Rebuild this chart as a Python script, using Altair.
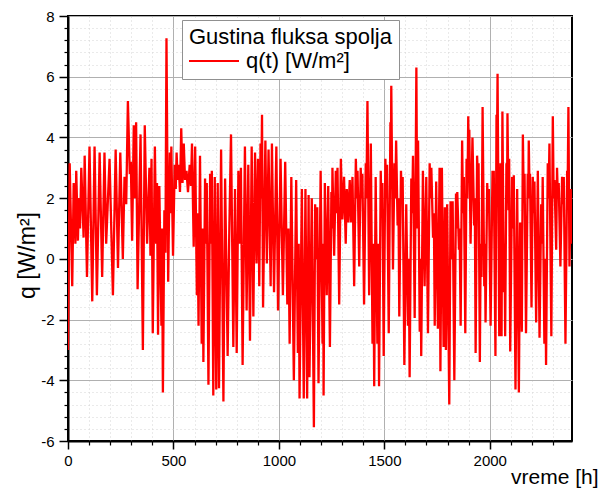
import altair as alt
import pandas as pd

# time [h] and heat flux q [W/m^2]
t_hours = [
    0, 8, 20, 27, 35, 39, 47, 52, 57, 63, 74, 79, 90, 102, 115, 126, 137, 150, 162, 173,
    181, 197, 213, 226, 237, 248, 260, 268, 276, 284, 293, 298, 304, 312, 318, 323, 330, 344, 355, 364,
    375, 386, 391, 396, 402, 412, 418, 422, 427, 433, 443, 446, 450, 457, 462, 467, 475, 483, 486, 490,
    498, 506, 511, 515, 520, 525, 531, 537, 543, 549, 555, 562, 569, 577, 583, 588, 596, 603, 611, 614,
    619, 626, 634, 638, 642, 650, 654, 658, 666, 674, 678, 682, 689, 696, 703, 710, 716, 726, 737, 745,
    757, 765, 773, 784, 792, 800, 808, 814, 820, 828, 839, 847, 855, 863, 871, 879, 887, 894, 901, 907,
    913, 916, 920, 925, 936, 943, 951, 961, 967, 977, 988, 996, 1008, 1019, 1030, 1040, 1045, 1051, 1059, 1071,
    1082, 1090, 1094, 1098, 1109, 1118, 1126, 1134, 1141, 1145, 1156, 1166, 1172, 1177, 1182, 1188, 1198, 1207, 1210, 1212,
    1218, 1227, 1234, 1242, 1249, 1252, 1254, 1262, 1270, 1274, 1278, 1286, 1294, 1301, 1309, 1317, 1322, 1328, 1336, 1341,
    1349, 1357, 1365, 1369, 1373, 1381, 1388, 1392, 1396, 1404, 1412, 1415, 1420, 1428, 1436, 1444, 1448, 1452, 1459, 1467,
    1471, 1475, 1483, 1487, 1491, 1497, 1505, 1509, 1513, 1521, 1529, 1531, 1533, 1541, 1548, 1552, 1556, 1563, 1567, 1571,
    1579, 1583, 1587, 1595, 1604, 1612, 1616, 1620, 1628, 1632, 1636, 1644, 1652, 1656, 1660, 1668, 1672, 1675, 1683, 1691,
    1699, 1707, 1715, 1719, 1723, 1731, 1735, 1739, 1746, 1754, 1762, 1766, 1773, 1781, 1787, 1792, 1798, 1808, 1814, 1819,
    1824, 1832, 1840, 1843, 1846, 1854, 1857, 1862, 1869, 1873, 1877, 1884, 1890, 1894, 1898, 1901, 1903, 1909, 1918, 1926,
    1929, 1933, 1940, 1944, 1947, 1953, 1957, 1961, 1966, 1974, 1977, 1980, 1988, 1992, 1996, 2004, 2013, 2016, 2019, 2027,
    2032, 2034, 2037, 2045, 2051, 2056, 2060, 2067, 2070, 2073, 2079, 2082, 2084, 2089, 2092, 2097, 2106, 2110, 2114, 2122,
    2130, 2138, 2144, 2152, 2157, 2161, 2165, 2172, 2180, 2183, 2185, 2189, 2191, 2198, 2204, 2208, 2212, 2220, 2228, 2236,
    2244, 2248, 2251, 2259, 2263, 2267, 2275, 2279, 2283, 2292, 2299, 2303, 2307, 2315, 2319, 2323, 2327, 2335, 2343, 2347,
    2351, 2359, 2367, 2369, 2373, 2378, 2384, 2389,
]
q_values = [
    -3.0, 3.15, -0.9, 2.5, 0.5, 2.9, 0.6, 2.0, 1.0, 3.0, 0.7, 3.4, -0.6, 3.7, -1.4, 3.7, -1.2, 3.5, -0.6, 3.5,
    0.5, 3.3, -1.2, 3.6, -0.3, 3.5, 0.0, 2.7, 1.8, 5.2, 2.8, 3.2, 0.6, 4.4, 2.0, 4.5, -1.0, 4.1, -3.0, 4.4,
    0.5, 3.0, 0.1, 3.3, -2.45, 3.7, 0.5, 2.5, -2.5, 2.4, -2.2, 1.0, -4.4, 1.6, 0.2, 7.27, -0.75, 3.5, 1.5, 3.7,
    0.1, 3.1, 2.3, 3.5, 2.6, 3.1, 2.2, 4.3, 2.5, 3.8, 2.6, 2.9, 2.2, 3.1, 2.4, 3.8, 0.4, 3.7, -1.2, 1.5,
    -2.2, 3.4, -2.8, 1.0, -3.4, 2.65, 0.5, 2.5, -4.15, 2.8, 0.5, 2.9, -4.5, 2.7, -4.3, 2.5, -4.26, 3.6, -4.7, 2.65,
    -3.2, 1.0, 4.1, -2.9, 2.3, -3.1, 2.9, 0.5, 3.0, -3.5, 3.7, -1.7, 3.1, -2.7, 3.7, -1.9, 3.5, -0.15, 3.3, -0.9,
    3.8, 2.0, 4.75, -1.6, 3.9, -0.15, 3.6, -0.9, 3.8, -1.1, 3.7, -1.7, 3.3, -1.2, 3.2, -1.5, 1.0, -2.8, 2.7, -4.0,
    2.6, -3.1, 0.5, -4.6, 2.3, -4.6, 2.3, -4.6, 2.1, -3.9, 2.0, -5.55, 1.8, 0.0, 1.7, -4.1, 2.9, -2.8, 0.5, -4.5,
    2.5, -1.2, 2.4, -2.9, 2.2, 1.0, 3.0, 0.1, 2.9, 1.5, 3.0, -1.5, 3.3, 1.3, 2.7, 0.5, 2.3, 1.2, 2.6, 1.2,
    2.7, -0.9, 3.3, 2.0, 2.9, -0.25, 3.0, 2.0, 2.8, -1.5, 3.15, 2.0, 5.2, -1.2, 3.8, -2.8, 0.5, -4.2, 2.7, -2.8,
    0.5, -4.2, 2.9, 1.5, 2.5, -3.2, 3.3, 2.0, 3.1, -2.45, 4.5, 3.0, 5.7, -0.35, 3.15, 2.0, 3.9, 1.1, 2.0, -1.9,
    2.9, 2.0, 2.7, -3.5, 1.8, -2.2, 0.0, -3.9, 2.65, 1.5, 3.4, -1.95, 6.3, 1.0, 3.9, -2.4, 0.0, -3.2, 2.9, -0.9,
    2.7, -2.45, 3.15, 2.0, 3.0, 0.7, 1.5, -2.2, 2.55, -2.3, 3.0, -3.7, 3.0, -2.9, 1.7, -3.0, 1.8, -4.8, 1.9, 0.0,
    1.9, -4.0, 2.15, 1.0, 2.2, 0.3, 1.0, -2.2, 3.9, 1.5, 2.7, -2.45, 3.3, 2.0, 4.7, 3.0, 4.25, 0.5, 4.0, 1.1,
    2.0, -3.1, 3.4, 2.5, 3.15, -3.4, 0.5, -0.6, 5.0, -0.9, 0.5, -2.1, 2.5, 1.5, 2.3, -2.2, 2.9, 1.8, 2.9, -3.2,
    4.75, 3.5, 6.1, -2.55, 3.15, -2.55, 4.85, -1.1, 0.5, -2.55, 3.15, 2.0, 4.8, 1.6, 3.3, -3.05, 2.7, 1.0, 2.75, -4.3,
    2.3, -4.4, 1.2, -2.4, 4.1, 2.0, 2.8, -2.45, 2.8, 2.0, 3.9, 2.0, 2.8, -1.6, 2.7, 1.5, 2.55, -2.1, 2.9, -2.6,
    1.8, 0.5, 2.7, -2.8, 0.0, -3.5, 3.15, 2.0, 3.8, -2.55, 4.7, 2.0, 2.6, 0.3, 3.0, 2.0, 2.5, -0.25, 2.7, 1.8,
    2.7, -2.8, 2.9, 2.0, 5.0, -0.25, 2.3, 0.5,
]

series_name = "q(t) [W/m\u00b2]"
x_major = [0, 500, 1000, 1500, 2000]
x_minor = [100, 200, 300, 400, 600, 700, 800, 900, 1100, 1200, 1300, 1400,
           1600, 1700, 1800, 1900, 2100, 2200, 2300]
y_major = [-6, -4, -2, 0, 2, 4, 6, 8]
y_minor = [-5.6, -5.2, -4.8, -4.4, -3.6, -3.2, -2.8, -2.4, -1.6, -1.2, -0.8, -0.4,
           0.4, 0.8, 1.2, 1.6, 2.4, 2.8, 3.2, 3.6, 4.4, 4.8, 5.2, 5.6, 6.4, 6.8, 7.2, 7.6]

df = pd.DataFrame({"t": t_hours, "q": q_values, "series": series_name})

FONT = "Liberation Sans"
xscale = alt.Scale(domain=[0, 2390], nice=False, zero=False)
yscale = alt.Scale(domain=[-6, 8], nice=False, zero=False)

minor = alt.Chart(df).mark_line(opacity=0).encode(
    x=alt.X("t:Q", scale=xscale, axis=alt.Axis(
        orient="bottom", values=x_minor, labels=False, domain=False, title="",
        tickSize=4, tickColor="black", tickWidth=1.2,
        grid=True, gridColor="#d4d4d4", gridDash=[1, 3], gridWidth=1)),
    y=alt.Y("q:Q", scale=yscale, axis=alt.Axis(
        orient="left", values=y_minor, labels=False, domain=False, title="",
        tickSize=4, tickColor="black", tickWidth=1.2,
        grid=True, gridColor="#d4d4d4", gridDash=[1, 3], gridWidth=1)),
)

main = alt.Chart(df).mark_line(strokeWidth=2.3, clip=True).encode(
    x=alt.X("t:Q", scale=xscale, axis=alt.Axis(
        orient="bottom", values=x_major, title="vreme [h]",
        labelExpr="datum.value + ''",
        labelFont=FONT, labelFontSize=15, labelColor="black", labelPadding=4,
        labelFlush=False,
        tickSize=8, tickColor="black", tickWidth=1.5,
        domainColor="black", domainWidth=2,
        grid=True, gridColor="#b0b0b0", gridWidth=1,
        titleFont=FONT, titleFontSize=21, titleFontWeight="normal", titleColor="black",
        titleAlign="right", titleBaseline="alphabetic", titleX=530, titleY=42)),
    y=alt.Y("q:Q", scale=yscale, axis=alt.Axis(
        orient="left", values=y_major, title="q [W/m\u00b2]",
        labelExpr="datum.value + ''",
        labelFont=FONT, labelFontSize=15, labelColor="black", labelPadding=5,
        labelFlush=False,
        tickSize=9, tickColor="black", tickWidth=1.5,
        domainColor="black", domainWidth=2,
        grid=True, gridColor="#b0b0b0", gridWidth=1,
        titleFont=FONT, titleFontSize=23, titleFontWeight="normal", titleColor="black",
        titleAngle=270, titleAlign="center", titleBaseline="middle",
        titleX=-41, titleY=239)),
    color=alt.Color("series:N", scale=alt.Scale(range=["#ff0000"]), legend=alt.Legend(
        orient="none", legendX=114, legendY=4,
        title="Gustina fluksa spolja", titleFont=FONT, titleFontSize=22,
        titleFontWeight="normal", titleColor="black", titlePadding=1, titleLimit=500,
        labelFont=FONT, labelFontSize=22, labelColor="black", labelOffset=35, labelLimit=500,
        symbolType="M-2.2,0H7.8", symbolSize=100, symbolStrokeWidth=2,
        strokeColor="#909090", fillColor="white", padding=7)),
)

chart = alt.layer(minor, main).resolve_axis(x="independent", y="independent").properties(
    width=504, height=425,
    autosize=alt.AutoSizeParams(type="none"),
    padding={"left": 68, "top": 16, "right": 28, "bottom": 47},
    background="white",
).configure_view(stroke="black", strokeWidth=2)

chart.save("out.html", embed_options={"renderer": "svg", "actions": False})
